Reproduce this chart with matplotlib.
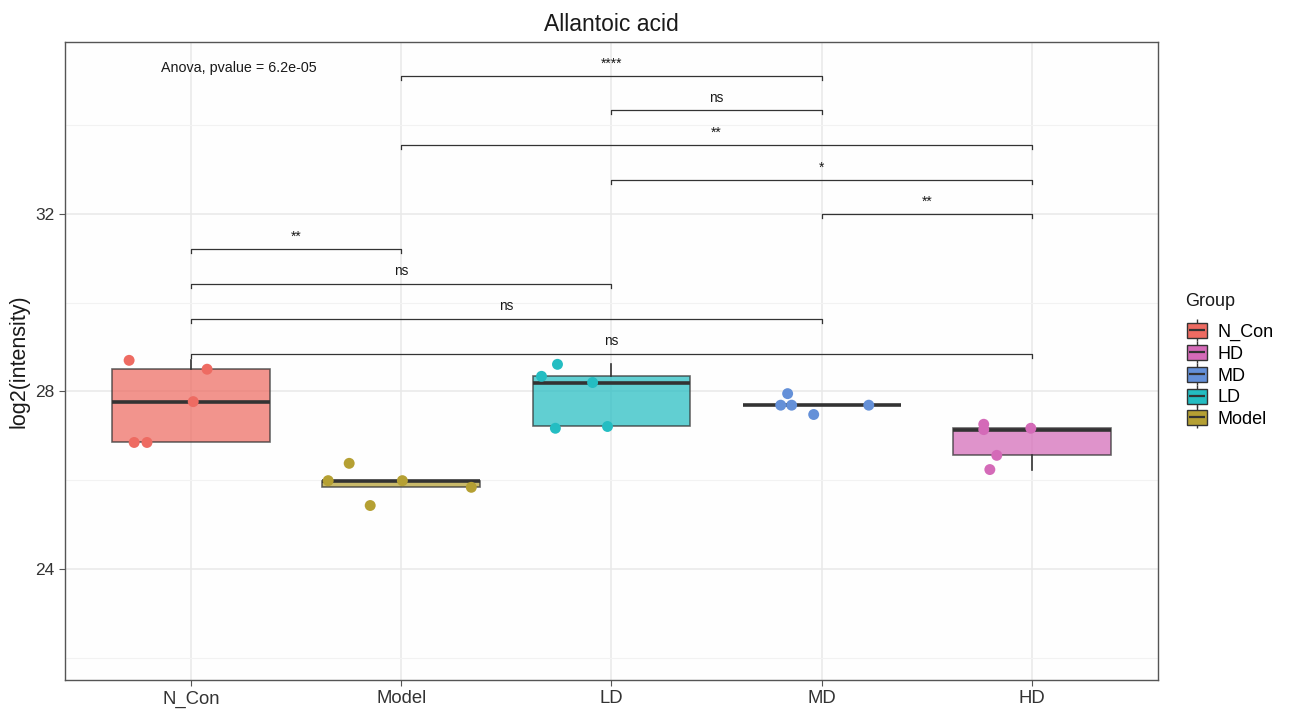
import matplotlib
matplotlib.use("Agg")
import matplotlib.pyplot as plt
from matplotlib.patches import Patch
from matplotlib.lines import Line2D
from matplotlib.legend_handler import HandlerTuple
import numpy as np

plt.rcParams['font.family'] = ['Liberation Sans', 'DejaVu Sans']

groups = ["N_Con", "Model", "LD", "MD", "HD"]
colors = {"N_Con": "#EE6B62", "Model": "#B5A033", "LD": "#24BDC2",
          "MD": "#6490D8", "HD": "#D46AB8"}

# log2 intensities per sample
values = {
    "N_Con": [28.70, 28.50, 27.77, 26.85, 26.85],
    "Model": [26.38, 25.99, 25.99, 25.84, 25.43],
    "LD":    [28.34, 28.61, 28.20, 27.17, 27.21],
    "MD":    [27.95, 27.69, 27.69, 27.48, 27.69],
    "HD":    [27.26, 27.14, 27.17, 26.56, 26.24],
}
# horizontal jitter of each sample
jitter = {
    "N_Con": [-0.295, 0.076, 0.010, -0.271, -0.210],
    "Model": [-0.248, -0.348, 0.005, 0.333, -0.148],
    "LD":    [-0.333, -0.257, -0.090, -0.267, -0.019],
    "MD":    [-0.162, -0.143, -0.195, -0.038, 0.224],
    "HD":    [-0.229, -0.229, -0.005, -0.167, -0.200],
}

# pairwise comparisons: (group1, group2, bracket height, label)
comparisons = [
    ("Model", "MD", 35.11, "****"),
    ("LD", "MD", 34.34, "ns"),
    ("Model", "HD", 33.55, "**"),
    ("LD", "HD", 32.77, "*"),
    ("MD", "HD", 32.00, "**"),
    ("N_Con", "Model", 31.21, "**"),
    ("N_Con", "LD", 30.43, "ns"),
    ("N_Con", "MD", 29.64, "ns"),
    ("N_Con", "HD", 28.85, "ns"),
]
anova_text = "Anova, pvalue = 6.2e-05"

fig = plt.figure(figsize=(12.95, 7.16), dpi=100)
ax = fig.add_axes([0.0502, 0.0503, 0.844, 0.891])
ax.set_facecolor("#FEFEFE")

pos = {g: i + 1 for i, g in enumerate(groups)}

for g in groups:
    bp = ax.boxplot([values[g]], positions=[pos[g]], widths=0.75, whis=1.5,
                    showfliers=False, patch_artist=True, zorder=3,
                    boxprops=dict(facecolor=colors[g], alpha=0.72,
                                  edgecolor="#333333", linewidth=1.2),
                    medianprops=dict(color="#333333", linewidth=2.6),
                    whiskerprops=dict(color="#333333", linewidth=1.2),
                    capprops=dict(linewidth=0))
    for b in bp["boxes"]:
        b.set_edgecolor((0.2, 0.2, 0.2, 1.0))
    xs = pos[g] + np.array(jitter[g])
    ax.scatter(xs, values[g], s=62, color=colors[g], edgecolors="none",
               zorder=4)

# significance brackets
tick = 0.09
for g1, g2, h, lab in comparisons:
    x1, x2 = pos[g1], pos[g2]
    ax.plot([x1, x1, x2, x2], [h - tick, h, h, h - tick], color="#333333",
            linewidth=0.9, zorder=5)
    ax.text((x1 + x2) / 2, h + 0.12, lab, ha="center", va="bottom",
            fontsize=9.8, color="#1A1A1A")

ax.text(0.857, 35.13, anova_text, ha="left", va="bottom", fontsize=10.3,
        color="#1A1A1A")

ax.set_xlim(0.4, 5.6)
ax.set_ylim(21.5, 35.87)
ax.set_xticks([pos[g] for g in groups])
ax.set_xticklabels(groups, fontsize=13.3, color="#333333")
ax.set_yticks([24, 28, 32])
ax.set_yticks([22, 26, 30, 34], minor=True)
ax.tick_params(axis="y", which="minor", length=0)
ax.tick_params(axis="x", which="major", labelsize=13.3)
ax.tick_params(axis="y", which="major", labelsize=12.5)
ax.tick_params(axis="both", which="major", length=4, color="#555555",
               labelcolor="#333333")
ax.grid(True, which="major", color="#E8E8E8", linewidth=1.1, zorder=0)
ax.grid(True, which="minor", axis="y", color="#F2F2F2", linewidth=0.8,
        zorder=0)
ax.set_axisbelow(True)
for s in ax.spines.values():
    s.set_color("#555555")
    s.set_linewidth(1.0)

ax.set_ylabel("log2(intensity)", fontsize=15.5, color="#1A1A1A", labelpad=4)
ax.set_title("Allantoic acid", fontsize=16.5, color="#1A1A1A", pad=8)

# legend with boxplot-style keys
legend_order = ["N_Con", "HD", "MD", "LD", "Model"]
handles = []
for g in legend_order:
    vline = Line2D([], [], marker="|", markersize=16, color="#333333",
                   linestyle="none", markeredgewidth=1.0)
    box = Patch(facecolor=colors[g], edgecolor="#333333", linewidth=1.0)
    hline = Line2D([], [], marker="_", markersize=12, color="#333333",
                   linestyle="none", markeredgewidth=1.6)
    handles.append((vline, box, hline))
fig.text(0.915, 1 - 302 / 716, "Group", ha="left", va="center",
         fontsize=13, color="#1A1A1A")
fig.legend(handles, legend_order,
           handler_map={tuple: HandlerTuple(ndivide=1)},
           loc="upper left", bbox_to_anchor=(0.904, 0.571),
           frameon=False, fontsize=13,
           handlelength=1.1, handleheight=0.9, labelspacing=0.22,
           handletextpad=0.6)

fig.savefig("out.png", dpi=100)
